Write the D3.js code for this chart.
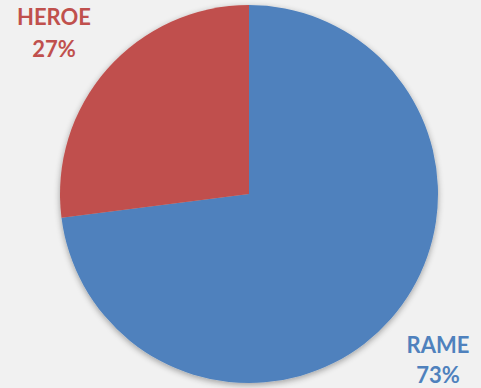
<!DOCTYPE html>
<html>
<head>
<meta charset="utf-8">
<script src="https://cdn.jsdelivr.net/npm/d3@7"></script>
<style>
  body { margin: 0; background: #f1f1f1; }
  svg { display: block; }
</style>
</head>
<body>
<div id="chart"></div>
<script>
// Chart data
const categories = ["RAME", "HEROE"];
const values = [73, 27];
const colors = ["#4f81bd", "#c0504d"];

function init() {
    const width = 481;
    const height = 388;
    const cx = 249, cy = 194, radius = 189;

    const svg = d3.select("#chart").append("svg")
                  .attr("width", width)
                  .attr("height", height);

    svg.append("rect")
       .attr("width", width)
       .attr("height", height)
       .attr("fill", "#f1f1f1");

    // soft shadow under the pie
    const defs = svg.append("defs");
    const f = defs.append("filter").attr("id", "shadow")
                  .attr("x", "-20%").attr("y", "-20%")
                  .attr("width", "140%").attr("height", "140%");
    f.append("feGaussianBlur").attr("in", "SourceAlpha").attr("stdDeviation", 3);
    f.append("feOffset").attr("dx", 0).attr("dy", 2).attr("result", "blur");
    f.append("feComponentTransfer").append("feFuncA").attr("type", "linear").attr("slope", 0.35);
    const m = f.append("feMerge");
    m.append("feMergeNode");
    m.append("feMergeNode").attr("in", "SourceGraphic");

    const pie = d3.pie().sort(null).value(d => d);
    const arc = d3.arc().innerRadius(0).outerRadius(radius);

    const g = svg.append("g")
                 .attr("transform", `translate(${cx},${cy})`)
                 .attr("filter", "url(#shadow)");

    g.selectAll("path")
     .data(pie(values))
     .enter()
     .append("path")
     .attr("d", arc)
     .attr("fill", (d, i) => colors[i]);

    // labels outside the pie
    const labelPos = [[438, 353, 383], [54, 25, 57]];
    categories.forEach((c, i) => {
        const t = svg.append("text")
                     .attr("text-anchor", "middle")
                     .attr("fill", colors[i])
                     .style("font-family", "Lato, 'Open Sans', sans-serif")
                     .style("font-weight", "bold")
                     .style("font-size", "22px");
        t.append("tspan").attr("x", labelPos[i][0]).attr("y", labelPos[i][1]).text(c);
        t.append("tspan").attr("x", labelPos[i][0]).attr("y", labelPos[i][2]).text(values[i] + "%");
    });
}

window.onload = init;
</script>
</body>
</html>
